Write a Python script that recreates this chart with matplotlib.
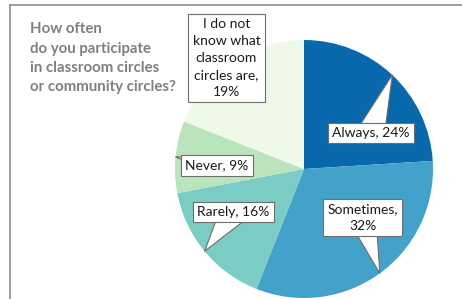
import numpy as np
import matplotlib.pyplot as plt
from matplotlib.lines import Line2D

plt.rcParams['font.family'] = ['Lato', 'DejaVu Sans']

categories = ['Always', 'Sometimes', 'Rarely', 'Never',
              'I do not\nknow what\nclassroom\ncircles are']
values = [24, 32, 16, 9, 19]
colors = ['#0868ac', '#43a2ca', '#7bccc4', '#bae4bc', '#f0f9e8']
title = 'How often\ndo you participate\nin classroom circles\nor community circles?'

W, H = 462, 299
cx, cy, R = 304, 169, 129  # pie centre / radius in pixels

fig = plt.figure(figsize=(W / 100, H / 100), dpi=100)
ax = fig.add_axes([(cx - R) / W, (H - cy - R) / H, 2 * R / W, 2 * R / H])
ax.axis('off')

wedges, _ = ax.pie(values, colors=colors, startangle=90, counterclock=False,
                   radius=1, wedgeprops=dict(linewidth=0))
ax.set_xlim(-1, 1)
ax.set_ylim(-1, 1)

# callout box centres (pixels) and pointer widths
box_px = [(371, 133), (362.5, 217.5), (233.5, 212), (217, 165.5), (226.5, 58)]
tails = [2.0, 2.0, 2.0, 1.2, 2.0]


def px2data(p):
    return ((p[0] - cx) / R, (cy - p[1]) / R)


for w, cat, v, bp, tw in zip(wedges, categories, values, box_px, tails):
    ang = np.deg2rad((w.theta1 + w.theta2) / 2)
    tip = (np.cos(ang), np.sin(ang))
    if cat == 'Sometimes':
        text = 'Sometimes,\n%d%%' % v
    elif '\n' in cat:
        text = '%s,\n%d%%' % (cat, v)
    else:
        text = '%s, %d%%' % (cat, v)
    ax.annotate(text, xy=tip, xytext=px2data(bp), ha='center', va='center',
                fontsize=10, color='#1a1a1a', linespacing=1.5,
                bbox=dict(boxstyle='square,pad=0.32', fc='white', ec='#6e6e6e', lw=0.8),
                arrowprops=dict(arrowstyle='wedge,tail_width=%.1f,shrink_factor=0.5' % tw,
                                fc='white', ec='#6e6e6e', lw=0.8,
                                patchA=None, shrinkA=0, shrinkB=0),
                annotation_clip=False)

fig.text(30 / W, 1 - 22 / H, title, ha='left', va='top', fontsize=10.8,
         fontweight='bold', color='#7f7f7f', linespacing=1.5)

# frame lines
fig.add_artist(Line2D([9.5 / W, 1], [1 - 4.5 / H] * 2, color='#8c8c8c', lw=1.2))
fig.add_artist(Line2D([9.5 / W] * 2, [0, 1 - 4.5 / H], color='#8c8c8c', lw=1.2))

fig.savefig('out.png', dpi=100)
